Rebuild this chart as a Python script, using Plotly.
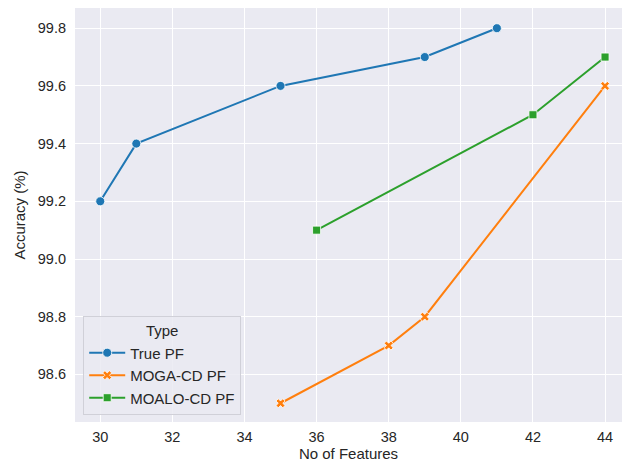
import plotly.graph_objects as go

true_x = [30, 31, 35, 39, 41]
true_y = [99.2, 99.4, 99.6, 99.7, 99.8]
moga_x = [35, 38, 39, 44]
moga_y = [98.5, 98.7, 98.8, 99.6]
moalo_x = [36, 42, 44]
moalo_y = [99.1, 99.5, 99.7]

x_ticks = [30, 32, 34, 36, 38, 40, 42, 44]
y_ticks = [98.6, 98.8, 99.0, 99.2, 99.4, 99.6, 99.8]

fig = go.Figure()
fig.add_trace(go.Scatter(x=true_x, y=true_y, mode="lines+markers", name="True PF",
                         line=dict(color="#1f77b4", width=2),
                         marker=dict(symbol="circle", size=9, color="#1f77b4",
                                     line=dict(color="white", width=0.8))))
fig.add_trace(go.Scatter(x=moga_x, y=moga_y, mode="lines+markers", name="MOGA-CD PF",
                         line=dict(color="#ff7f0e", width=2),
                         marker=dict(symbol="x", size=8, color="#ff7f0e",
                                     line=dict(color="white", width=0.8))))
fig.add_trace(go.Scatter(x=moalo_x, y=moalo_y, mode="lines+markers", name="MOALO-CD PF",
                         line=dict(color="#2ca02c", width=2),
                         marker=dict(symbol="square", size=8, color="#2ca02c",
                                     line=dict(color="white", width=0.8))))

fig.update_layout(
    width=622, height=464,
    margin=dict(l=75, r=0, t=8, b=42),
    paper_bgcolor="white",
    plot_bgcolor="#eaeaf2",
    font=dict(family="Liberation Sans, Arial, sans-serif", size=15, color="#262626"),
    showlegend=True,
    legend=dict(
        x=0.015, y=0.017, xanchor="left", yanchor="bottom",
        bgcolor="rgba(234,234,242,0.85)", bordercolor="#d0d0d8", borderwidth=1,
        title=dict(text="Type", side="top center", font=dict(size=15)),
        font=dict(size=15), tracegroupgap=0, itemwidth=36,
    ),
    xaxis=dict(
        title=dict(text="No of Features", font=dict(size=15), standoff=4),
        range=[29.3, 44.47], tickvals=x_ticks, ticktext=[str(v) for v in x_ticks],
        showgrid=True, gridcolor="white", gridwidth=1, zeroline=False,
        showline=False, ticks="", tickfont=dict(size=14.5), ticklabelstandoff=4,
    ),
    yaxis=dict(
        title=dict(text="Accuracy (%)", font=dict(size=15), standoff=8),
        range=[98.435, 99.87], tickvals=y_ticks, ticktext=[f"{v:.1f}" for v in y_ticks],
        showgrid=True, gridcolor="white", gridwidth=1, zeroline=False,
        showline=False, ticks="", tickfont=dict(size=14.5), ticklabelstandoff=8,
    ),
)

fig.write_html("out.html")
